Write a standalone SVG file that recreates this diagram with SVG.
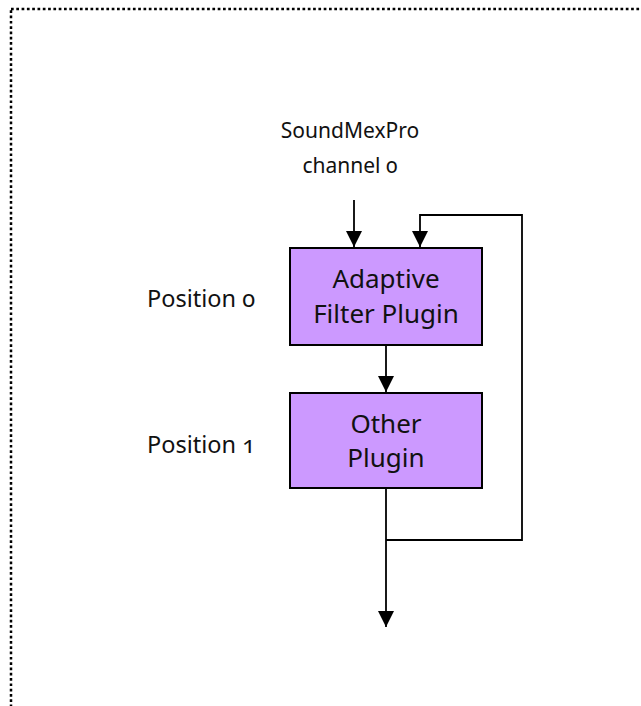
<svg xmlns="http://www.w3.org/2000/svg" width="641" height="706" viewBox="0 0 641 706">
<style>
.frame{fill:none;stroke:#000;stroke-width:2.5;stroke-dasharray:2.7 2.6}
.box{fill:#cc99ff;stroke:#000;stroke-width:2}
.conn{fill:none;stroke:#000;stroke-width:1.8}
text{font-family:"Noto Sans","Open Sans","Liberation Sans",sans-serif;fill:#111;font-feature-settings:"onum"}
.lbl{font-size:21px;text-anchor:middle}
.pos{font-size:23.5px}
.inbox{font-size:26px;text-anchor:middle}
</style>
<defs>
<marker id="arr" viewBox="0 0 16 16" refX="16" refY="8" markerWidth="16" markerHeight="16" markerUnits="userSpaceOnUse" orient="auto">
<path d="M0,0 L16,8 L0,16 Z" fill="#000"/>
</marker>
</defs>
<rect class="frame" x="11" y="9" width="660" height="720"/>
<g id="source">
<text class="lbl" x="350" y="138">SoundMexPro</text>
<text class="lbl" x="350" y="173">channel 0</text>
</g>
<g id="label-pos0"><text class="pos" x="147" y="307">Position 0</text></g>
<g id="label-pos1"><text class="pos" x="147" y="453">Position 1</text></g>
<g id="adaptive">
<rect class="box" x="290" y="248" width="192" height="97"/>
<text class="inbox" x="386" y="288">Adaptive</text>
<text class="inbox" x="386" y="323">Filter Plugin</text>
</g>
<g id="other">
<rect class="box" x="290" y="393" width="192" height="95"/>
<text class="inbox" x="386" y="433">Other</text>
<text class="inbox" x="386" y="467">Plugin</text>
</g>
<g id="connectors">
<path class="conn" d="M354,200 V247" marker-end="url(#arr)"/>
<path class="conn" d="M386,345 V392" marker-end="url(#arr)"/>
<path class="conn" d="M386,488 V627" marker-end="url(#arr)"/>
<path class="conn" d="M386,540 H522 V215 H420 V247" marker-end="url(#arr)"/>
</g>
</svg>
